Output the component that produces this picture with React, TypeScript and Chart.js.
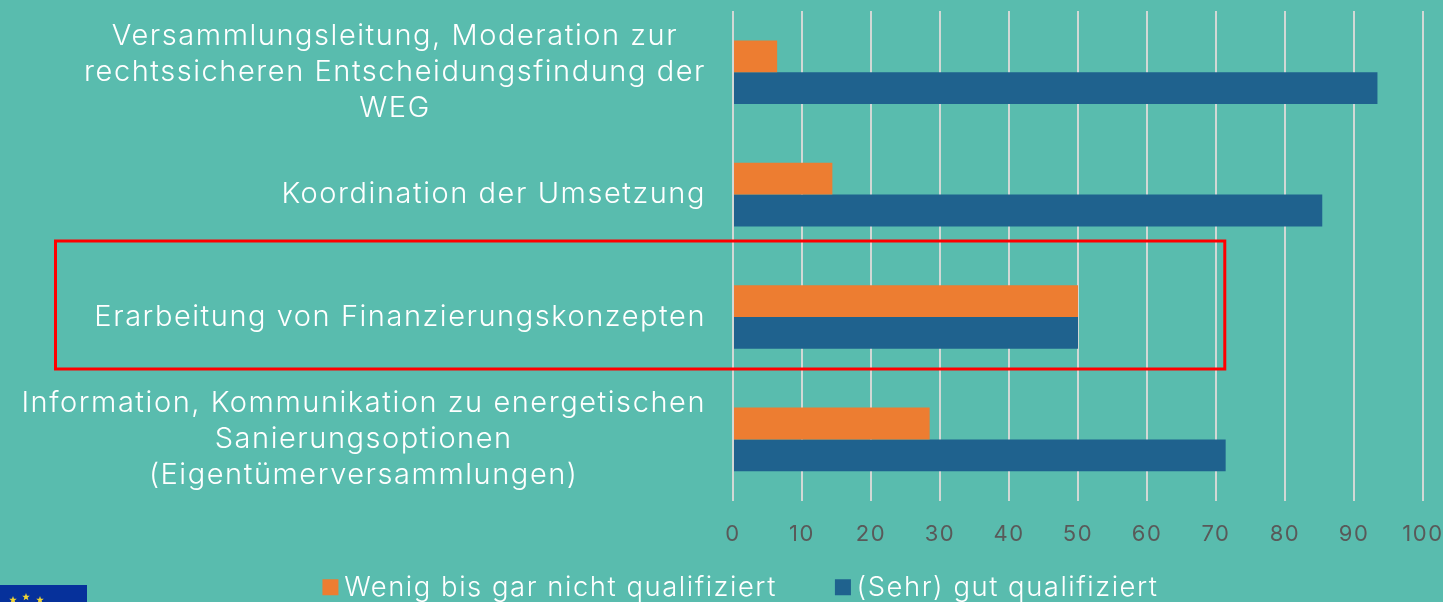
import React, { useEffect, useRef } from "react";
import { Chart, registerables } from "chart.js";

Chart.register(...registerables);

const categories: string[][] = [
  ["Versammlungsleitung, Moderation zur", "rechtssicheren Entscheidungsfindung der", "WEG"],
  ["Koordination der Umsetzung"],
  ["Erarbeitung von Finanzierungskonzepten"],
  ["Information, Kommunikation zu energetischen", "Sanierungsoptionen", "(Eigentümerversammlungen)"],
];
const seriesLowLabel = "Wenig bis gar nicht qualifiziert";
const seriesHighLabel = "(Sehr) gut qualifiziert";
const seriesLow = [6.4, 14.4, 50, 28.5];
const seriesHigh = [93.4, 85.4, 50, 71.4];

const FONT = "Inter, 'Open Sans', sans-serif";
const BG = "#59BCAE";
const SPACING = "1.55px";

const spacing = {
  id: "spacing",
  beforeUpdate(chart: any) { chart.ctx.letterSpacing = SPACING; },
  beforeLayout(chart: any) { chart.ctx.letterSpacing = SPACING; },
  afterLayout(chart: any) {
    // let the value labels show below the axis, and set the legend where the reference has it
    chart.scales.x.bottom = 565;
    chart.legend.left += 33;
    chart.legend.right += 33;
  },
  beforeDraw(chart: any) { chart.ctx.letterSpacing = SPACING; },
};

const centerBlocks = {
  id: "centerBlocks",
  beforeDraw(chart: any) {
    const s = chart.scales.y;
    const ctx = chart.ctx;
    ctx.save();
    s.getLabelItems().forEach((item: any) => {
      if (item.options.textAlign === "center") return;
      ctx.font = item.font.string;
      const lines = Array.isArray(item.label) ? item.label : [item.label];
      const w = Math.max(...lines.map((l: string) => ctx.measureText(l).width));
      item.options.textAlign = "center";
      item.options.translation[0] -= w / 2;
    });
    ctx.restore();
  },
};

const overlays = {
  id: "overlays",
  afterDraw(chart: any) {
    const { ctx, scales } = chart;
    const cy = scales.y.getPixelForValue(2);
    ctx.save();
    ctx.strokeStyle = "#FF0000";
    ctx.lineWidth = 3;
    ctx.strokeRect(55.5, cy - 76, scales.x.getPixelForValue(71.2) - 55, 128);
    ctx.fillStyle = "#06319B";
    ctx.fillRect(0, 585, 87, 17);
    ctx.fillStyle = "#F2D534";
    const star = (x: number, y: number, r: number) => {
      ctx.beginPath();
      for (let i = 0; i < 10; i++) {
        const a = -Math.PI / 2 + (i * Math.PI) / 5;
        const q = i % 2 ? r * 0.42 : r;
        ctx.lineTo(x + q * Math.cos(a), y + q * Math.sin(a));
      }
      ctx.closePath();
      ctx.fill();
    };
    star(13, 600, 4);
    star(26, 597, 4);
    star(40, 600, 4);
    ctx.restore();
  },
};

export default function App() {
  const ref = useRef<HTMLCanvasElement>(null);
  useEffect(() => {
    document.body.style.margin = "0";
    const chart = new Chart(ref.current!, {
      type: "bar",
      data: {
        labels: categories as any,
        datasets: [
          { label: seriesLowLabel, data: seriesLow, backgroundColor: "#ED7D31", categoryPercentage: 0.52, barPercentage: 1 },
          { label: seriesHighLabel, data: seriesHigh, backgroundColor: "#1F628E", categoryPercentage: 0.52, barPercentage: 1 },
        ],
      },
      options: {
        indexAxis: "y",
        responsive: false,
        animation: false,
        layout: { padding: { top: 11, right: 20, left: 0, bottom: -9 } },
        scales: {
          x: {
            min: 0,
            max: 100,
            afterFit: (s: any) => { s.height = 7; s.paddingLeft = 0; s.paddingRight = 0; },
            border: { display: false },
            grid: { color: "#D2D8D5", lineWidth: 2, drawTicks: false },
            ticks: { stepSize: 10, color: "#595959", padding: 21, maxRotation: 0, autoSkip: false, font: { family: FONT, size: 22, weight: "400" } },
          },
          y: {
            afterFit: (s: any) => { s.width = 733; s.paddingTop = 0; s.paddingBottom = 0; },
            border: { display: false },
            grid: { display: false, drawTicks: false },
            ticks: { color: "#FFFFFF", padding: 27, autoSkip: false, font: { family: FONT, size: 29, weight: "300", lineHeight: 1.24 } },
          },
        },
        plugins: {
          tooltip: { enabled: false },
          legend: {
            position: "bottom",
            labels: {
              color: "#FFFFFF",
              usePointStyle: true,
              pointStyle: "rect",
              boxWidth: 0.01,
              boxHeight: 16,
              padding: 66,
              font: { family: FONT, size: 27.4, weight: "300" },
            },
          },
        },
      },
      plugins: [spacing, centerBlocks, overlays],
    } as any);
    return () => chart.destroy();
  }, []);
  return (
    <div style={{ position: "absolute", left: 0, top: 0, width: 1443, height: 602, background: BG, overflow: "hidden" }}>
      <canvas ref={ref} width={1443} height={602} style={{ display: "block" }} />
    </div>
  );
}
